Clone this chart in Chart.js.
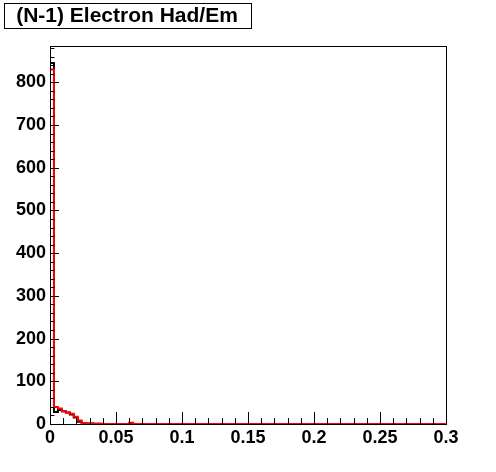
<!DOCTYPE html>
<html>
<head>
<meta charset="utf-8">
<script src="https://cdn.jsdelivr.net/npm/chart.js@4"></script>
<style>
  body { margin: 0; background: #fff; }
</style>
</head>
<body>
<canvas id="hist" width="496" height="472"></canvas>
<script>
const title = '(N-1) Electron Had/Em';
const xMin = 0, xMax = 0.3, nBins = 100;

// bin contents, 0.003 wide bins
const blackCounts = [
  845, 28, 33, 30, 27, 22, 15, 5, 2, 1, 1, 0, 0, 0, 0, 0, 0, 0, 0, 0,
  0, 0, 0, 0, 0, 0, 0, 0, 0, 0, 0, 0, 0, 0, 0, 0, 0, 0, 0, 0,
  0, 0, 0, 0, 0, 0, 0, 0, 0, 0, 0, 0, 0, 0, 0, 0, 0, 0, 0, 0,
  0, 0, 0, 0, 0, 0, 0, 0, 0, 0, 0, 0, 0, 0, 0, 0, 0, 0, 0, 0,
  0, 0, 0, 0, 0, 0, 0, 0, 0, 0, 0, 0, 0, 0, 0, 0, 0, 0, 0, 0
];
const redCounts = [
  830, 40, 36, 30, 27, 24, 17, 8, 2, 1, 1, 1, 1, 0, 0, 0, 0, 0, 0, 0,
  3, 0, 0, 0, 0, 0, 0, 0, 0, 0, 0, 0, 0, 0, 0, 0, 0, 0, 0, 0,
  0, 0, 0, 0, 0, 0, 0, 0, 0, 0, 0, 0, 0, 0, 0, 0, 0, 0, 0, 0,
  0, 0, 0, 0, 0, 0, 0, 0, 0, 0, 0, 0, 0, 0, 0, 0, 0, 0, 0, 0,
  0, 0, 0, 0, 0, 0, 0, 0, 0, 0, 0, 0, 0, 0, 0, 0, 0, 0, 0, 0
];

const xLabels = [0, 0.05, 0.1, 0.15, 0.2, 0.25, 0.3];
const yLabels = [0, 100, 200, 300, 400, 500, 600, 700, 800];
const yMax = 885;

function histPoints(counts) {
  const w = (xMax - xMin) / nBins;
  const pts = counts.map((c, i) => ({ x: xMin + i * w, y: c }));
  pts.push({ x: xMax, y: counts[counts.length - 1] });
  return pts;
}

// ROOT style frame, inward ticks and title box
const rootFrame = {
  id: 'rootFrame',
  beforeDraw(chart) {
    const c = chart.ctx;
    c.save();
    c.fillStyle = '#fff';
    c.fillRect(0, 0, chart.width, chart.height);
    c.restore();
  },
  afterDraw(chart) {
    const c = chart.ctx;
    const a = chart.chartArea;
    const xs = chart.scales.x, ys = chart.scales.y;
    c.save();
    c.strokeStyle = '#000';
    c.lineWidth = 1;
    c.strokeRect(Math.round(a.left) + 0.5, Math.round(a.top) + 0.5,
      Math.round(a.right - a.left), Math.round(a.bottom - a.top));
    c.beginPath();
    for (let v = 0; v <= yMax; v += 20) {
      const y = Math.round(ys.getPixelForValue(v)) + 0.5;
      const len = v % 100 === 0 ? 9 : 4.5;
      c.moveTo(a.left, y);
      c.lineTo(a.left + len, y);
    }
    for (let k = 0; k <= 30; k++) {
      const x = Math.round(xs.getPixelForValue(k / 100)) + 0.5;
      const len = k % 5 === 0 ? 12 : 6;
      c.moveTo(x, a.bottom);
      c.lineTo(x, a.bottom - len);
    }
    c.stroke();

    c.fillStyle = '#fff';
    c.fillRect(4, 3, 247, 25);
    c.strokeRect(4.5, 3.5, 247, 25);
    c.fillStyle = '#000';
    c.font = 'bold 21px "Liberation Sans", Arial, sans-serif';
    c.textAlign = 'center';
    c.textBaseline = 'middle';
    c.fillText(title, 127, 16.5);
    c.restore();
  }
};

const tickFont = { family: '"Liberation Sans", Arial, sans-serif', size: 18, weight: 'bold' };

new Chart(document.getElementById('hist'), {
  type: 'line',
  data: {
    datasets: [
      {
        label: 'red',
        data: histPoints(redCounts),
        borderColor: '#ff0000',
        borderWidth: 2,
        stepped: 'before',
        pointRadius: 0,
        fill: false
      },
      {
        label: 'black',
        data: histPoints(blackCounts),
        borderColor: '#000000',
        borderWidth: 2,
        stepped: 'before',
        pointRadius: 0,
        fill: false
      }
    ]
  },
  options: {
    responsive: false,
    animation: false,
    layout: { padding: { left: 0, right: 50, top: 46, bottom: 0 } },
    plugins: {
      legend: { display: false },
      tooltip: { enabled: false }
    },
    scales: {
      x: {
        type: 'linear',
        min: xMin,
        max: xMax,
        grid: { display: false, drawTicks: false },
        border: { display: false },
        afterBuildTicks: s => { s.ticks = xLabels.map(v => ({ value: v })); },
        afterFit: s => { s.height = 48; },
        ticks: {
          color: '#000',
          font: tickFont,
          padding: 3,
          maxRotation: 0,
          autoSkip: false,
          callback: v => String(v)
        }
      },
      y: {
        min: 0,
        max: yMax,
        grid: { display: false, drawTicks: false },
        border: { display: false },
        afterBuildTicks: s => { s.ticks = yLabels.map(v => ({ value: v })); },
        afterFit: s => { s.width = 50; },
        ticks: {
          color: '#000',
          font: tickFont,
          padding: 4,
          autoSkip: false,
          callback: v => String(v)
        }
      }
    }
  },
  plugins: [rootFrame]
});
</script>
</body>
</html>
